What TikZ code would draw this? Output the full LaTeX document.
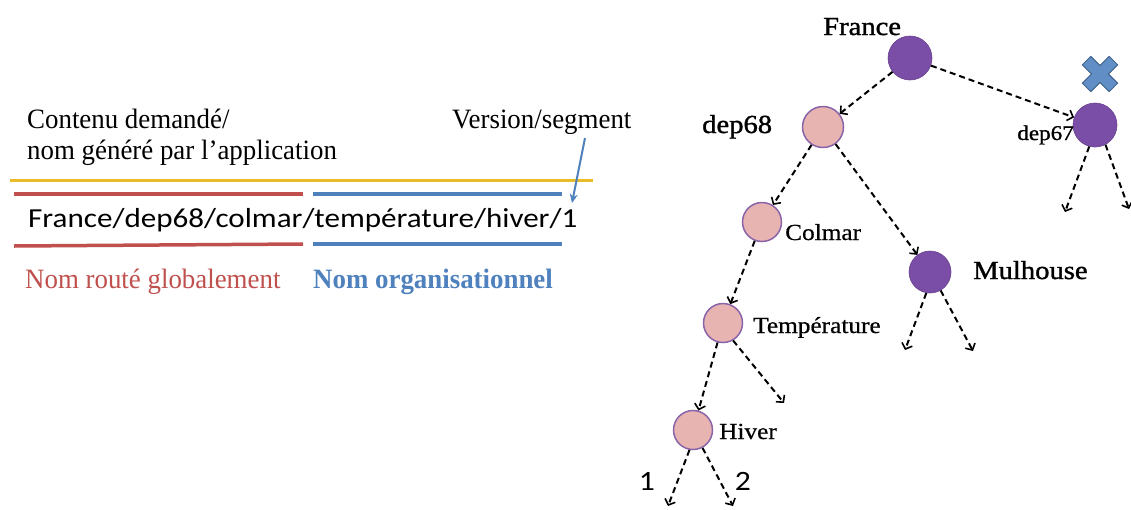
\documentclass[tikz,border=0pt]{standalone}
\usepackage{fontspec}
\setmainfont{Liberation Serif}[FakeStretch=0.96]
\newfontfamily\carlito{Carlito}[FakeStretch=1.13]
\newfontfamily\treefont{Liberation Serif}[FakeStretch=1.1, FakeBold=0.6]
\newfontfamily\treefontb{Liberation Serif}[FakeStretch=1.1, FakeBold=1.2]
\usetikzlibrary{arrows.meta}
\definecolor{purp}{HTML}{7A4DA6}
\definecolor{pinkf}{HTML}{E8B4B2}
\definecolor{pinkd}{HTML}{8A64A8}
\definecolor{yel}{HTML}{E9BC2A}
\definecolor{redl}{HTML}{C0504D}
\definecolor{bluel}{HTML}{4F81BD}
\tikzset{
  full/.style={circle, inner sep=0pt, fill=purp, draw=purp!85!black, line width=0.6pt},
  light/.style={circle, inner sep=0pt, fill=pinkf, draw=pinkd, line width=1.5pt},
  edge/.style={dash pattern=on 6pt off 4pt, line width=2pt, -{Straight Barb[length=5pt,width=11pt,line width=1.6pt]}},
  lbig/.style={font=\treefontb\fontsize{26}{30}\selectfont, inner sep=0pt},
  lsmall/.style={font=\treefont\fontsize{23}{27}\selectfont, inner sep=0pt},
  ltext/.style={font=\fontsize{28}{32}\selectfont, inner sep=0pt, anchor=base west},
  num/.style={font=\carlito\fontsize{28}{32}\selectfont, inner sep=0pt, anchor=base},
  bar/.style={line width=3.5pt},
}
\begin{document}
\begin{tikzpicture}[x=1pt,y=-1pt]
\useasboundingbox (0,0) rectangle (1131,509);
% left part
\node[ltext] (c1) at (27,128) {Contenu demandé/};
\node[ltext] (c2) at (27,159) {nom généré par l’application};
\node[ltext] (vs) at (452,128) {Version/segment};
\draw[yel, line width=3pt] (10,180) -- (593,180);
\draw[redl, bar] (14,194) -- (303,194);
\draw[bluel, bar] (313,194) -- (562,194);
\node[font=\carlito\fontsize{27.5}{31}\selectfont, inner sep=0pt, anchor=base west] (path) at (28,227) {France/dep68/colmar/température/hiver/1};
\draw[redl, bar] (14,246) -- (303,244);
\draw[bluel, bar] (313,244) -- (562,244);
\coordinate (va) at (585,138);
\coordinate (vb) at (572,203);
\draw[bluel, line width=2pt, -{Stealth[length=9pt,width=8pt]}] (va) -- (vb);
\node[ltext, text=redl] (nr) at (25,288) {Nom routé globalement};
\node[ltext, text=bluel, font=\fontsize{28}{32}\selectfont\bfseries] (no) at (313,288) {Nom organisationnel};
% tree
\node[full, minimum size=44pt] (fr) at (910,58) {};
\node[light, minimum size=41pt] (d68) at (823,127) {};
\node[full, minimum size=44pt] (d67) at (1095,125) {};
\node[light, minimum size=39pt] (col) at (762,222) {};
\node[full, minimum size=42pt] (mul) at (930,272) {};
\node[light, minimum size=39pt] (tem) at (723,323) {};
\node[light, minimum size=39pt] (hiv) at (693,430) {};
\node[lbig, anchor=base west] (lfr) at (823,35) {France};
\node[lbig, anchor=base west] (ld68) at (702,133) {dep68};
\node[lsmall, font=\treefontb\fontsize{21}{25}\selectfont, anchor=base east] (ld67) at (1074,140) {dep67};
\node[lsmall, anchor=base west] (lcol) at (785,240) {Colmar};
\node[lbig, anchor=base west] (lmul) at (973,279) {Mulhouse};
\node[lsmall, anchor=base west] (ltem) at (753,333) {Température};
\node[lsmall, anchor=base west] (lhiv) at (719,439) {Hiver};
\node[num] (n1) at (647,490) {1};
\node[num] (n2) at (743,490) {2};
% cross
\begin{scope}[shift={(1100,74)}, rotate=45]
\draw[fill=bluel!90!white, draw=bluel!70!black, line width=0.8pt]
 (-6,-19) -- (6,-19) -- (6,-6) -- (19,-6) -- (19,6) -- (6,6) -- (6,19) -- (-6,19) -- (-6,6) -- (-19,6) -- (-19,-6) -- (-6,-6) -- cycle;
\end{scope}
% edges
\draw[edge] (fr) -- (d68);
\draw[edge] (fr) -- (d67);
\draw[edge] (d68) -- (col);
\draw[edge] (d68) -- (mul);
\draw[edge] (col) -- (tem);
\draw[edge] (tem) -- (hiv);
\coordinate (t1) at (784,403);
\draw[edge] (tem.-60) -- (t1);
\coordinate (m1) at (905,350);
\coordinate (m2) at (973,351);
\draw[edge] (mul.-100) -- (m1);
\draw[edge] (mul.-60) -- (m2);
\coordinate (e1) at (1065,212);
\coordinate (e2) at (1129,209);
\draw[edge] (d67.-105) -- (e1);
\draw[edge] (d67.-62) -- (e2);
\coordinate (h1) at (668,506);
\coordinate (h2) at (733,506);
\draw[edge] (hiv.-100) -- (h1);
\draw[edge] (hiv.-62) -- (h2);
\end{tikzpicture}
\end{document}
